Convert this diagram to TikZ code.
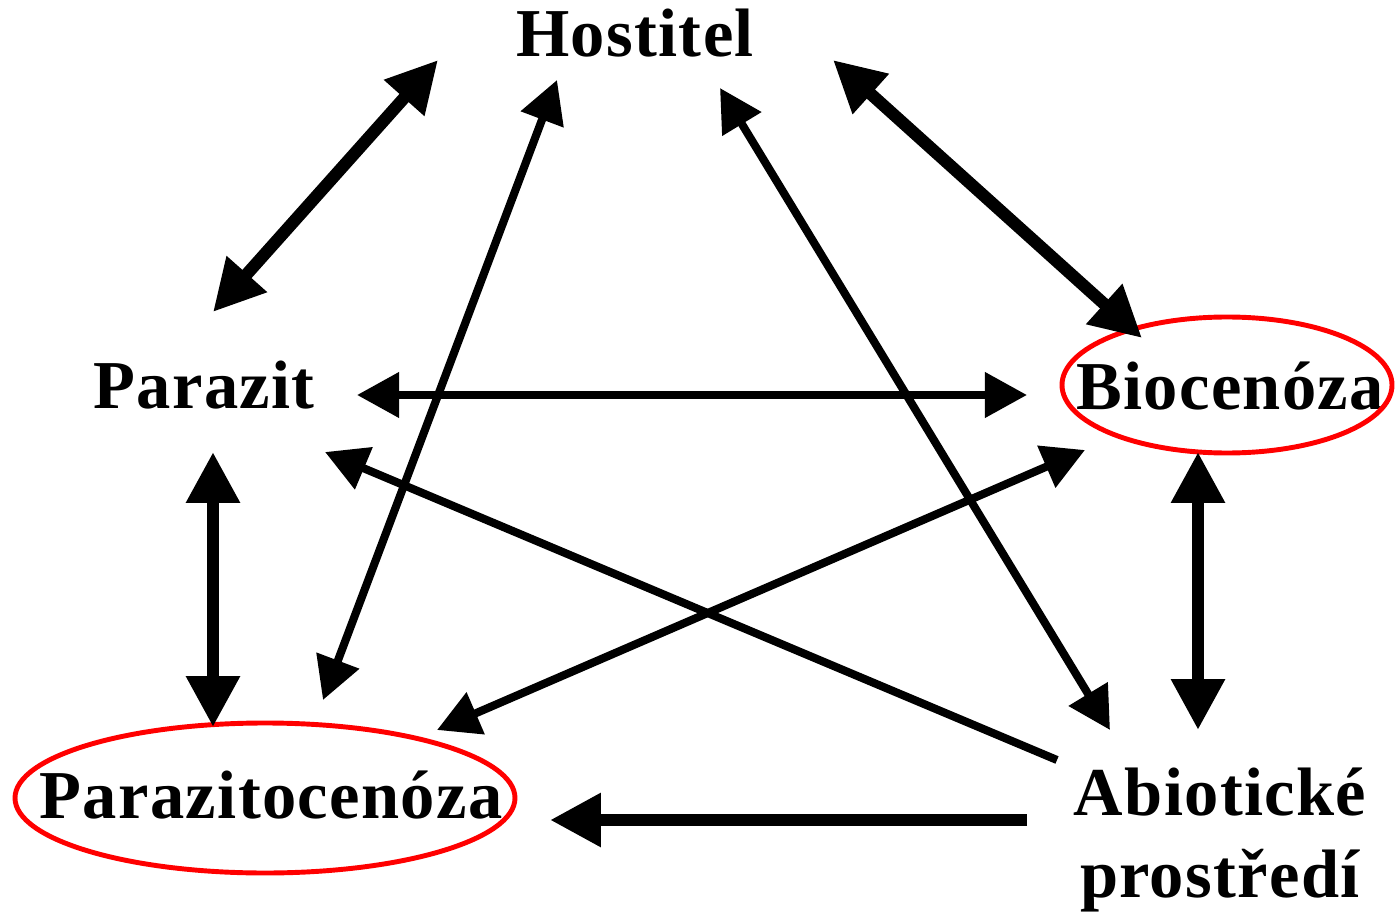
\documentclass[tikz,border=0pt]{standalone}
\usepackage{fontspec}
\setmainfont{Liberation Serif}
\newfontfamily\lblfont{Liberation Serif}[LetterSpace=2.0]
\usetikzlibrary{arrows.meta}
\tikzset{
  bighead/.tip={Triangle[length=29pt, width=29pt]},
  smallhead/.tip={Triangle[length=24pt, width=25pt]}
}

\begin{document}
\begin{tikzpicture}[x=0.02cm, y=-0.02cm,
  lbl/.style={font=\lblfont\bfseries\fontsize{39}{46.5}\selectfont, inner sep=0pt, anchor=base},
  ring/.style={draw=red, line width=2.8pt},
  wide/.style={arrows={bighead-bighead}, line width=7pt},
  slim/.style={arrows={smallhead-smallhead}, line width=4.6pt}]
\useasboundingbox (0,0) rectangle (1396,915);
\node[lbl] at (635,57) (host) {Hostitel};
\node[lbl] at (204,408) (par) {Parazit};
\node[lbl] at (1230,410) (bio) {Biocenóza};
\node[lbl] at (271,818) (pcen) {Parazitocenóza};
\node[lbl, align=center] at (1220,897) (abio) {Abiotické\\prostředí};
%red rings
\draw[ring] ([shift={(-3,-25)}]bio.base) ellipse [x radius=165, y radius=68];
\draw[ring] ([shift={(-6,-20)}]pcen.base) ellipse [x radius=250, y radius=75];
%thick arrows
\draw[wide] ([shift={(-197,3)}]host.base) -- ([shift={(9,-96)}]par.base);
\draw[wide] ([shift={(198,3)}]host.base) -- ([shift={(-88,-72)}]bio.base);
\draw[wide] ([shift={(9,44)}]par.base) -- ([shift={(-58,-91)}]pcen.base);
\draw[wide] ([shift={(-32,42)}]bio.base) -- ([shift={(-22,-167)}]abio.base);
\draw[wide, arrows={-bighead}] ([shift={(-193,-77)}]abio.base)
  -- ([shift={(279,2)}]pcen.base);
%thin arrows
\draw[slim] ([shift={(153,-13)}]par.base) -- ([shift={(-203,-15)}]bio.base);
\draw[slim] ([shift={(-78,23)}]host.base) -- ([shift={(52,-118)}]pcen.base);
\draw[slim] ([shift={(85,31)}]host.base) -- ([shift={(-110,-167)}]abio.base);
\draw[slim] ([shift={(-145,40)}]bio.base) -- ([shift={(166,-88)}]pcen.base);
\draw[slim, arrows={-smallhead}] ([shift={(-163,-137)}]abio.base)
  -- ([shift={(121,44)}]par.base);
\end{tikzpicture}
\end{document}
